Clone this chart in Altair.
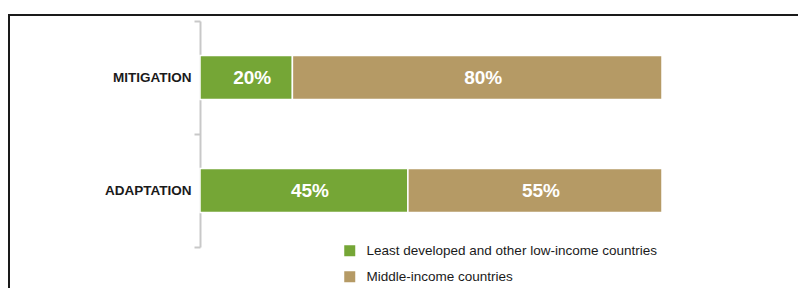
import altair as alt
import pandas as pd

categories = ["MITIGATION", "ADAPTATION"]
groups = ["Least developed and other low-income countries", "Middle-income countries"]
low_income = [20, 45]
middle_income = [80, 55]
colors = ["#75a636", "#b59a65"]

rows = []
for i, c in enumerate(categories):
    rows.append({"cat": c, "grp": groups[0], "val": low_income[i], "ord": 0})
    rows.append({"cat": c, "grp": groups[1], "val": middle_income[i], "ord": 1})
df = pd.DataFrame(rows)

SANS = "Liberation Sans, Arial, sans-serif"

base = alt.Chart(df).transform_stack(
    stack="val", groupby=["cat"], as_=["x0", "x1"], sort=[alt.SortField("ord")]
).transform_calculate(
    mid="(datum.x0 + datum.x1) / 2",
    lbl="datum.val + '%'",
)

yenc = alt.Y(
    "cat:N",
    sort=categories,
    title=None,
    scale=alt.Scale(paddingInner=0, paddingOuter=0),
    axis=alt.Axis(
        tickBand="extent",
        domainColor="#c8c8c8",
        domainWidth=2,
        tickColor="#c8c8c8",
        tickWidth=2,
        tickSize=6,
        labelPadding=3,
        labelFont=SANS,
        labelFontSize=13.5,
        labelFontWeight="bold",
        labelColor="#1a1a1a",
    ),
)

bars = base.mark_bar(size=44, stroke="white", strokeWidth=1.5).encode(
    x=alt.X("x0:Q", scale=alt.Scale(domain=[0, 100], nice=False), axis=None),
    x2="x1:Q",
    y=yenc,
    color=alt.Color(
        "grp:N",
        sort=groups,
        scale=alt.Scale(domain=groups, range=colors),
        legend=alt.Legend(
            title=None,
            orient="none",
            legendX=143,
            legendY=223,
            symbolType="square",
            symbolSize=121,
            symbolStrokeWidth=0,
            symbolOpacity=1,
            labelFont=SANS,
            labelFontSize=13.5,
            labelColor="#1a1a1a",
            labelOffset=10,
            rowPadding=11,
            padding=0,
            labelLimit=400,
        ),
    ),
)

texts = base.mark_text(
    color="white", font=SANS, fontWeight="bold",
    fontSize=19, dx=6, baseline="middle"
).encode(
    x=alt.X("mid:Q"),
    y=alt.Y("cat:N", sort=categories),
    text="lbl:N",
)

frame = alt.Chart(pd.DataFrame({"a": [0]})).mark_rect(
    filled=False, stroke="#1a1a1a", strokeWidth=2, clip=False
).encode(
    x=alt.value(-191), x2=alt.value(1000), y=alt.value(-6), y2=alt.value(1000)
)

chart = alt.layer(frame, bars, texts).properties(
    width=462,
    height=226,
    autosize=alt.AutoSizeParams(type="none"),
    padding={"left": 192, "top": 13, "right": 136, "bottom": 41},
).configure_view(stroke=None)

chart.save("out.html", embed_options={"renderer": "svg", "actions": False})
